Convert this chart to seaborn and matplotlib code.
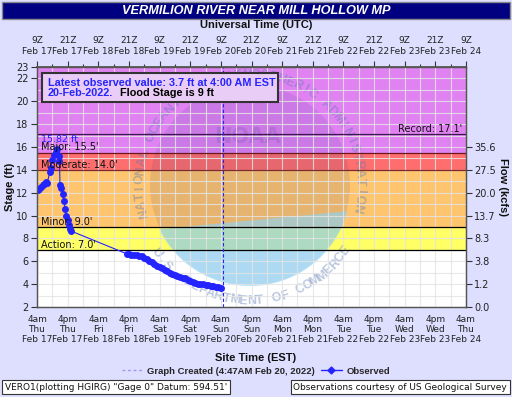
import numpy as np
import pandas as pd
import matplotlib
matplotlib.use("Agg")
import matplotlib.pyplot as plt
import matplotlib.dates as mdates
from matplotlib.patches import Rectangle, Ellipse, Polygon
from matplotlib.lines import Line2D
from matplotlib.ticker import FuncFormatter, MultipleLocator
import seaborn as sns

# Observed stage (hours after Feb 17 4am EST, ft)
obs_hours = [0.3, 0.8, 1.5, 2.2, 2.8, 3.5, 4.0, 5.0, 5.5, 6.0, 6.8, 7.5, 8.0, 8.5, 8.8,
             9.0, 9.5, 10.0, 10.5, 11.0, 11.5, 12.0, 12.5, 13.0, 13.3,
             35.2, 36, 37, 38, 39, 40, 41, 42, 43, 44, 45, 46, 47, 48, 49, 50,
             51, 52, 53, 54, 55, 56, 57, 58, 59, 59.8,
             61, 62, 63, 64, 65, 66, 67, 68, 69, 70, 71, 72]
obs_stage = [12.2, 12.3, 12.5, 12.7, 12.8, 12.9, 12.85, 13.8, 14.2, 14.9, 15.3, 15.6, 15.82, 15.2, 14.8,
             12.7, 12.4, 11.9, 11.3, 10.6, 10.0, 9.6, 9.2, 8.85, 8.65,
             6.65, 6.62, 6.58, 6.55, 6.52, 6.48, 6.42, 6.33, 6.2, 6.05, 5.9, 5.75, 5.62, 5.5, 5.38, 5.25,
             5.12, 5.0, 4.9, 4.82, 4.74, 4.66, 4.58, 4.5, 4.4, 4.3,
             4.15, 4.1, 4.05, 4.0, 3.97, 3.93, 3.9, 3.86, 3.82, 3.78, 3.74, 3.7]

# Flood categories
cat_names = ["Action", "Minor", "Moderate", "Major"]
cat_levels = [7.0, 9.0, 14.0, 15.5]
record_level = 17.1
band_colors = ["#FFFF66", "#FFC46E", "#FF6E6E", "#E082F2"]

# Flow axis
flow_stage = [2, 4, 6, 8, 10, 12, 14, 16]
flow_labels = ["0.0", "1.2", "3.8", "8.3", "13.7", "20.0", "27.5", "35.6"]

start = pd.Timestamp("2022-02-17 04:00")
end = pd.Timestamp("2022-02-24 04:00")
created = pd.Timestamp("2022-02-20 04:47")

df = pd.DataFrame({"time": start + pd.to_timedelta(obs_hours, unit="h"),
                   "stage": obs_stage})

sns.set_theme(style="white")
plt.rcParams["font.family"] = ["DejaVu Sans"]
bg = "#DEDEFF"

W, H = 512, 397
fig = plt.figure(figsize=(W / 100, H / 100), dpi=100, facecolor=bg)


def fx(px):
    return px / W


def fy(py):
    return 1 - py / H


ax = fig.add_axes([fx(37), fy(307), fx(466) - fx(37), fy(67) - fy(307)])
ax.set_facecolor("white")

# flood bands
tops = cat_levels[1:] + [23]
for lo, hi, c in zip(cat_levels, tops, band_colors):
    ax.axhspan(lo, hi, color=c, zorder=0.5, lw=0)
for lvl, c in zip(cat_levels + [record_level], ["black", "black", "#7A2A2A", "#6A1A1A", "#3A1A4A"]):
    ax.axhline(lvl, color=c, lw=0.9, zorder=3)

# NOAA watermark (approximate)
cx, cy = 250, 185
T = fig.transFigure
ax.add_patch(Ellipse((fx(cx), fy(cy)), 200 / W, 200 / H, transform=T,
                     facecolor="#1A2A80", alpha=0.10, lw=0, zorder=1))
ang = np.radians(np.linspace(206, 345, 60))
pts = [(fx(cx + 101 * np.cos(a)), fy(cy - 101 * np.sin(a))) for a in ang]
ax.add_patch(Polygon(pts, closed=True, transform=T, facecolor="#8FD3F2",
                     alpha=0.65, lw=0, zorder=1.1))
ax.text(fx(247), fy(137), "NOAA", transform=T, fontsize=15, fontweight="bold",
        color="#1A2A80", alpha=0.13, ha="center", va="center", zorder=1.2)


def ring_text(s, a0, step, r, clockwise):
    for i, ch in enumerate(s):
        a = a0 - i * step if clockwise else a0 + i * step
        ar = np.radians(a)
        rot = a - 90 if clockwise else a + 90
        ax.text(fx(cx + r * np.cos(ar)), fy(cy - r * np.sin(ar)), ch, transform=T,
                rotation=rot, ha="center", va="center", fontsize=9,
                fontweight="bold", color="#5A78B4", alpha=0.42, zorder=1.3,
                family="Liberation Sans")


ring_text("NATIONAL OCEANIC AND ATMOSPHERIC ADMINISTRATION", 195, 4.5, 110, True)
ring_text("U.S. DEPARTMENT OF COMMERCE", 216, 4.2, 116, False)

# observed data
sns.lineplot(data=df, x="time", y="stage", ax=ax, color="#2424FF", lw=0.8,
             marker="o", markersize=5, markeredgewidth=0, zorder=5, legend=False)
ax.axvline(created, color="#2424FF", lw=0.8, ls=(0, (3, 2)), zorder=4)

ax.set_xlim(start, end)
ax.set_ylim(2, 23)
ax.set_xlabel("")
ax.set_ylabel("")

# grid
ax.xaxis.set_major_locator(mdates.HourLocator(byhour=[4, 16]))
ax.xaxis.set_minor_locator(mdates.HourLocator(byhour=[10, 22]))
ax.set_yticks([2, 4, 6, 8, 10, 12, 14, 16, 18, 20, 22, 23])
ax.yaxis.set_minor_locator(MultipleLocator(1))
ax.grid(which="both", color="#E4E4E4", lw=0.8, alpha=0.85, zorder=2)
ax.set_axisbelow(False)


def bottom_fmt(x, pos):
    d = mdates.num2date(x)
    hh = "4am" if d.hour < 12 else "4pm"
    return f"{hh}\n{d.strftime('%a')}\nFeb {d.day}"


def top_fmt(x, pos):
    d = mdates.num2date(x) + pd.Timedelta(hours=5)
    return f"{d.hour}Z\nFeb {d.day}"


ax.xaxis.set_major_formatter(FuncFormatter(bottom_fmt))
ax.tick_params(axis="x", which="major", direction="out", length=4, width=0.8,
               labelsize=6.5, pad=2, colors="#333333", labelcolor="#222222")
ax.tick_params(axis="x", which="minor", direction="out", length=2.5, width=0.8, colors="#333333")
ax.tick_params(axis="y", which="major", direction="out", length=4, width=0.8,
               labelsize=7, pad=2, colors="#333333", labelcolor="#222222")
ax.tick_params(axis="y", which="minor", length=0)
for lab in ax.get_xticklabels():
    lab.set_linespacing(1.15)

top = ax.secondary_xaxis("top")
top.xaxis.set_major_locator(mdates.HourLocator(byhour=[4, 16]))
top.xaxis.set_minor_locator(mdates.HourLocator(byhour=[10, 22]))
top.xaxis.set_major_formatter(FuncFormatter(top_fmt))
top.tick_params(which="major", direction="out", length=4, width=0.8, labelsize=6.5,
                pad=4, colors="#333333", labelcolor="#222222")
top.tick_params(which="minor", direction="out", length=2.5, width=0.8, colors="#333333")
top.spines["top"].set_color("#555555")

ax2 = ax.twinx()
ax2.set_ylim(2, 23)
ax2.set_yticks(flow_stage)
ax2.set_yticklabels(flow_labels)
ax2.tick_params(axis="y", direction="out", length=4, width=0.8, labelsize=7,
                pad=2, colors="#333333", labelcolor="#222222")
ax2.grid(False)
for a in (ax, ax2):
    for s in a.spines.values():
        s.set_color("#555555")
        s.set_linewidth(0.9)

# category labels
for name, lvl in zip(cat_names, cat_levels):
    ax.text(0.01, lvl + 0.03, f"{name}: {lvl:.1f}'", transform=ax.get_yaxis_transform(),
            fontsize=7, color="#111111", va="bottom", ha="left", zorder=6)
ax.text(0.99, record_level + 0.05, f"Record: {record_level}'", transform=ax.get_yaxis_transform(),
        fontsize=7, color="#111111", va="bottom", ha="right", zorder=6)
ax.text(0.01, 16.3, f"{max(obs_stage):.2f} ft", transform=ax.get_yaxis_transform(),
        fontsize=6.8, color="#2424FF", va="bottom", ha="left", zorder=6)

# latest value box
fig.patches.append(Rectangle((fx(42), fy(102)), fx(278) - fx(42), fy(73) - fy(102),
                             transform=T, facecolor="#EACDF6", edgecolor="#333333",
                             lw=1.5, zorder=7))
box_font = dict(fontsize=7.8, fontweight="bold", family="Liberation Sans",
                va="center", ha="left", zorder=8)
fig.text(fx(48), fy(83), f"Latest observed value: {obs_stage[-1]} ft at 4:00 AM EST",
         color="#2424FF", **box_font)
t1 = fig.text(fx(48), fy(93), "20-Feb-2022.", color="#2424FF", **box_font)
fig.canvas.draw()
x_end = t1.get_window_extent().x1
fig.text((x_end + 7) / W, fy(93), "Flood Stage is 9 ft", color="black", **box_font)

# titles
fig.patches.append(Rectangle((fx(2), fy(19)), fx(510) - fx(2), fy(2) - fy(19),
                             transform=T, facecolor="#000080", edgecolor="#888888",
                             lw=1, zorder=1))
fig.text(0.5, fy(10.5), "VERMILION RIVER NEAR MILL HOLLOW MP", color="white",
         fontsize=9.2, fontweight="bold", style="italic", ha="center", va="center",
         family="Liberation Sans")
fig.text(0.5, fy(25), "Universal Time (UTC)", fontsize=8, fontweight="bold",
         ha="center", va="center", family="Liberation Sans", color="#111111")
fig.text(0.5, fy(358), "Site Time (EST)", fontsize=8, fontweight="bold",
         ha="center", va="center", family="Liberation Sans", color="#111111")
fig.text(fx(10), fy(187), "Stage (ft)", rotation=90, fontsize=8, fontweight="bold",
         ha="center", va="center", family="Liberation Sans", color="#111111")
fig.text(fx(503), fy(187), "Flow (kcfs)", rotation=270, fontsize=8, fontweight="bold",
         ha="center", va="center", family="Liberation Sans", color="#111111")

# legend
handles = [Line2D([], [], color="#9A9AF0", ls=(0, (2, 2)), lw=1),
           Line2D([], [], color="#2424FF", lw=1, marker="D", markersize=3.5)]
leg = fig.legend(handles, ["Graph Created (4:47AM Feb 20, 2022)", "Observed"],
                 loc="center", bbox_to_anchor=(0.5, fy(371)), ncol=2, frameon=False,
                 handlelength=2.2, columnspacing=0.6, handletextpad=0.5,
                 prop={"family": "Liberation Sans", "weight": "bold", "size": 6.8})

# footer boxes
fig.text(fx(5), fy(387), "VERO1(plotting HGIRG) \"Gage 0\" Datum: 594.51'", fontsize=6.5,
         ha="left", va="center", color="#111111",
         bbox=dict(boxstyle="square,pad=0.3", facecolor="white", edgecolor="#333333", lw=0.8))
fig.text(fx(507), fy(387), "Observations courtesy of US Geological Survey", fontsize=6.5,
         ha="right", va="center", color="#111111",
         bbox=dict(boxstyle="square,pad=0.3", facecolor="white", edgecolor="#333333", lw=0.8))

fig.savefig("out.png", dpi=100, facecolor=bg)
